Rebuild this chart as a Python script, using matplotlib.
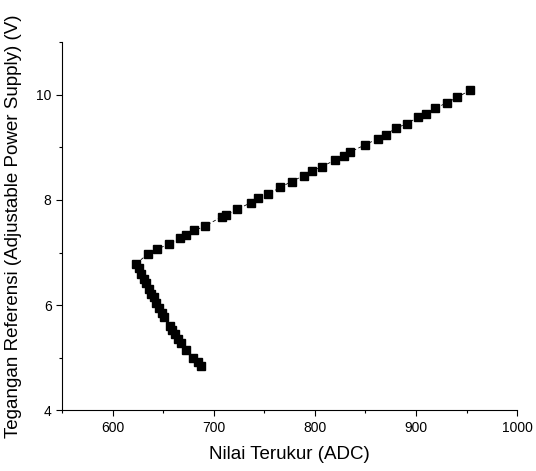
import numpy as np
import matplotlib.pyplot as plt
from matplotlib.ticker import MultipleLocator

plt.rcParams['font.family'] = ['Liberation Sans', 'DejaVu Sans']

# nilai ADC terukur dan tegangan referensi (urut dari tegangan terendah)
adc_turun = [687, 684, 680, 673, 668, 665, 662, 659, 657, 651,
             649, 646, 643, 641, 638, 636, 633, 631, 628, 626]
volt_turun = [4.84, 4.92, 4.99, 5.15, 5.28, 5.36, 5.45, 5.53, 5.6, 5.78,
              5.85, 5.95, 6.05, 6.15, 6.22, 6.3, 6.42, 6.5, 6.6, 6.7]

adc_naik = [623, 635, 644, 656, 667, 673, 681, 691, 708, 712,
            723, 737, 744, 754, 766, 777, 789, 797, 807, 820,
            829, 835, 850, 862, 870, 880, 891, 902, 910, 919,
            931, 941, 953]
volt_naik = [6.79, 6.97, 7.06, 7.17, 7.28, 7.33, 7.42, 7.5, 7.68, 7.71,
             7.82, 7.95, 8.03, 8.11, 8.24, 8.35, 8.46, 8.55, 8.63, 8.76,
             8.84, 8.91, 9.05, 9.16, 9.24, 9.36, 9.45, 9.57, 9.64, 9.74,
             9.85, 9.95, 10.08]

adc = adc_turun + adc_naik
volt = volt_turun + volt_naik

fig = plt.figure(figsize=(5.36, 4.71), dpi=100)
ax = fig.add_axes([0.1157, 0.1285, 0.849, 0.7823])

ax.plot(adc, volt, color='black', lw=0.6, ls=(0, (4, 3)),
        marker='s', markersize=5.5, markerfacecolor='black', markeredgecolor='black')

ax.set_xlim(550, 1000)
ax.set_ylim(4, 11)
ax.xaxis.set_major_locator(MultipleLocator(100))
ax.xaxis.set_minor_locator(MultipleLocator(50))
ax.yaxis.set_major_locator(MultipleLocator(2))
ax.yaxis.set_minor_locator(MultipleLocator(1))

ax.spines['top'].set_visible(False)
ax.spines['right'].set_visible(False)
ax.tick_params(which='major', direction='out', length=4, width=0.8, labelsize=10)
ax.tick_params(which='minor', direction='out', length=2.5, width=0.8)

ax.set_xlabel('Nilai Terukur (ADC)', fontsize=13.5, labelpad=8)
ax.set_ylabel('Tegangan Referensi (Adjustable Power Supply) (V)', fontsize=13.5, labelpad=10)

plt.savefig('out.png', dpi=100)
